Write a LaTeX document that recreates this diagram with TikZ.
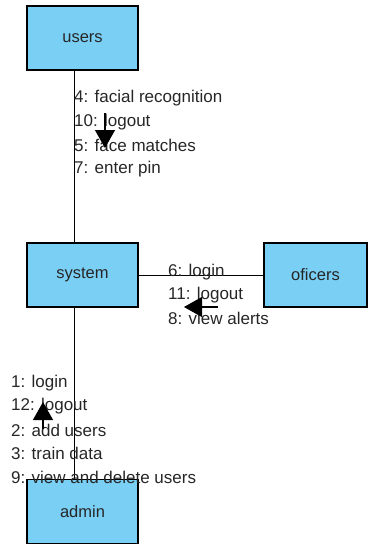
\documentclass[tikz,border=0pt]{standalone}
\usepackage{fontspec}
\setmainfont{Liberation Sans}
\usetikzlibrary{arrows.meta}
\definecolor{boxblue}{RGB}{122,207,245}
\begin{document}
\begin{tikzpicture}[x=1pt,y=-1pt,
  objbox/.style={draw=black,line width=1.4pt,fill=boxblue,minimum width=111pt,minimum height=64pt,inner sep=0pt,font=\fontsize{16.5}{18}\selectfont,text=black!85},
  msg/.style={anchor=west,inner sep=0pt,font=\fontsize{17}{19}\selectfont,text=black!85},
  link/.style={line width=1pt,black},
  msgarrow/.style={line width=1.2pt,-{Triangle[length=18pt,width=20pt]}}]
\useasboundingbox (0,0) rectangle (367,546);
\node[objbox] (users) at (82.5,38) {users};
\node[objbox] (system) at (82.5,275) {system};
\node[objbox,minimum width=103pt] (oficers) at (315.5,275) {oficers};
\node[objbox] (admin) at (82.5,511.5) {admin};
% links
\draw[link] (users.south -| 74,0) -- (system.north -| 74,0);
\draw[link] (system.south -| 74,0) -- (admin.north -| 74,0);
\draw[link] (system.east) -- (oficers.west);
% users-system messages
\node[msg] (m1) at (74,98) {4: facial recognition};
\node[msg] (m2) at (74,122) {10: logout};
\node[msg] (m3) at (74,145) {5: face matches};
\node[msg] (m4) at (74,169) {7: enter pin};
\coordinate (a1s) at (105,113);
\coordinate (a1e) at (105,148);
\draw[msgarrow] (a1s) -- (a1e);
% system-oficers messages
\node[msg] (o1) at (168,272) {6: login};
\node[msg] (o2) at (168,295) {11: logout};
\node[msg] (o3) at (168,318) {8: view alerts};
\coordinate (a2s) at (218,307);
\coordinate (a2e) at (184,307);
\draw[msgarrow] (a2s) -- (a2e);
% admin-system messages
\node[msg] (d1) at (11,383) {1: login};
\node[msg] (d2) at (11,406) {12: logout};
\node[msg] (d3) at (11,430) {2: add users};
\node[msg] (d4) at (11,453) {3: train data};
\node[msg] (d5) at (11,477) {9: view and delete users};
\coordinate (a3s) at (43,429);
\coordinate (a3e) at (43,402);
\draw[msgarrow] (a3s) -- (a3e);
\end{tikzpicture}
\end{document}
